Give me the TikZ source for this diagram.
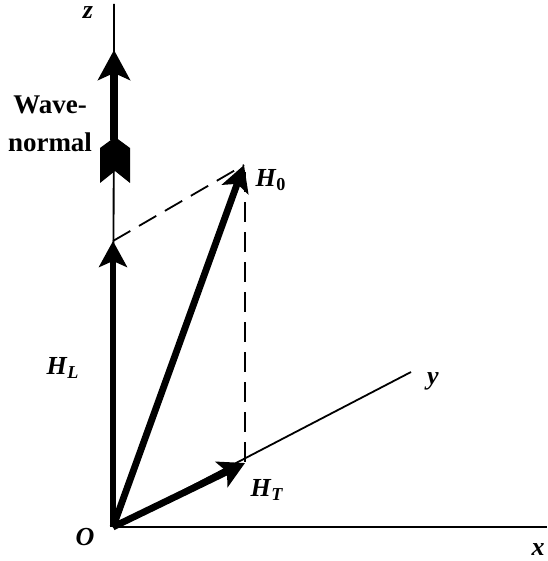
\documentclass[tikz,border=0pt]{standalone}
\usepackage{amsmath}
\usepackage{fontspec}
\setmainfont{Liberation Serif}
\usetikzlibrary{arrows.meta}
\newcommand{\vlabel}[2]{\textbf{\textit{#1}}$_{\text{\bfseries #2}}$}

\begin{document}
\begin{tikzpicture}[
    x=0.5pt, y=-0.5pt,
    axisline/.style={line width=0.9pt, draw=black},
    vecarrow/.style={line width=3.4pt, draw=black,
                 -{Stealth[length=13pt, width=14pt, inset=3pt]}},
    guide/.style={line width=0.9pt, dash pattern=on 10pt off 5pt},
    lbl/.style={font=\fontsize{13}{15}\selectfont, inner sep=0pt}
]
\useasboundingbox (0,0) rectangle (547,561);

% axes
\coordinate (O) at (113,527);
\coordinate (zTop) at (114,4);
\coordinate (xEnd) at (547,527);
\coordinate (yEnd) at (411,372);
\draw[axisline] (O) -- (zTop);
\draw[axisline, line width=1.1pt] (O) -- (xEnd);
\draw[axisline] (O) -- (yEnd);

% vector tips
\coordinate (HLtip) at (113,241);
\coordinate (HTtip) at (245,463);
\coordinate (H0tip) at (244,165);

% projections
\draw[guide] (HLtip) -- (H0tip);
\draw[guide] (245,172) -- (HTtip);

% field vectors
\draw[vecarrow] (O) -- (HLtip);
\draw[vecarrow] (O) -- (HTtip);
\draw[vecarrow] (O) -- (H0tip);

% wave-normal arrow
\coordinate (wTip) at (114,50);
\coordinate (wTail) at (114,140);
\draw[line width=4pt, -{Stealth[length=15pt, width=16pt, inset=3.5pt]}] (wTail) -- (wTip);
\fill (115,137) -- (130,148) -- (130,183) -- (115,171) -- (100,183) -- (100,148) -- cycle;

% labels
\node[lbl] (zlab) at (88,13) {\textbf{\textit{z}}};
\node[lbl] (xlab) at (538,550) {\textbf{\textit{x}}};
\node[lbl] (ylab) at (433,381) {\textbf{\textit{y}}};
\node[lbl] (olab) at (85,537) {\textbf{\textit{O}}};
\node[lbl] (h0lab) at (271,180) {\vlabel{H}{0}};
\node[lbl] (hllab) at (63,368) {\vlabel{H}{\itshape L}};
\node[lbl] (htlab) at (267,490) {\vlabel{H}{\itshape T}};
\node[lbl, align=center, font=\fontsize{13.5}{19}\selectfont\bfseries] (wavelab) at (50,124) {Wave-\\normal};
\end{tikzpicture}
\end{document}
